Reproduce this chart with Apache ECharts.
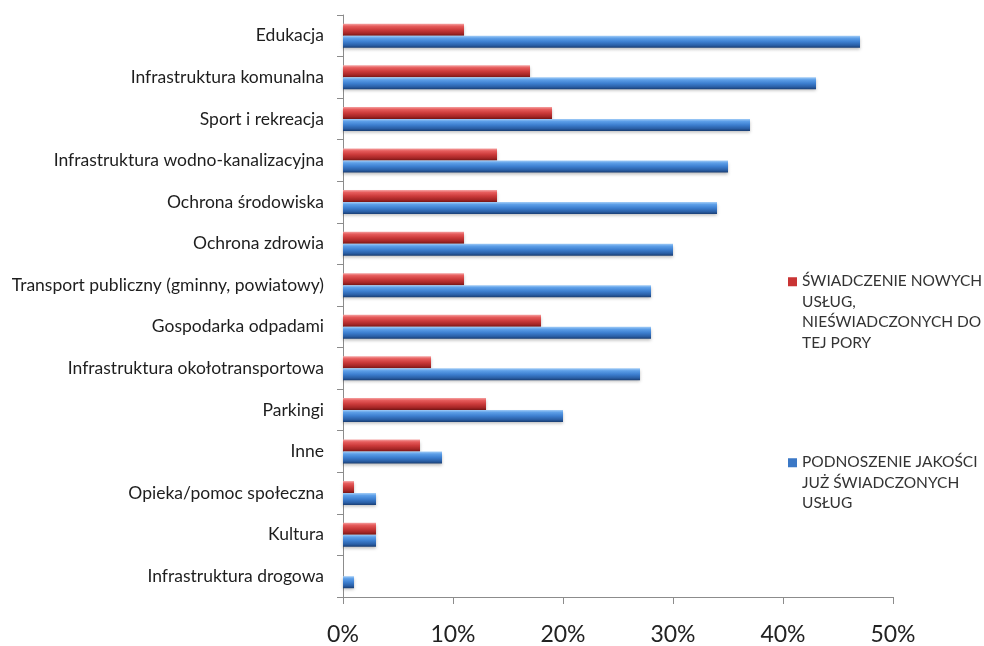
<!DOCTYPE html>
<html>
<head>
<meta charset="utf-8">
<script src="https://cdn.jsdelivr.net/npm/echarts@6/dist/echarts.min.js"></script>
<style>
html,body{margin:0;padding:0;background:#fff;}
#chart{width:984px;height:646px;}
</style>
</head>
<body>
<div id="chart"></div>
<script>
var categories = [
  'Edukacja',
  'Infrastruktura komunalna',
  'Sport i rekreacja',
  'Infrastruktura wodno-kanalizacyjna',
  'Ochrona środowiska',
  'Ochrona zdrowia',
  'Transport publiczny (gminny, powiatowy)',
  'Gospodarka odpadami',
  'Infrastruktura okołotransportowa',
  'Parkingi',
  'Inne',
  'Opieka/pomoc społeczna',
  'Kultura',
  'Infrastruktura drogowa'
];
var seriesNewName = 'ŚWIADCZENIE NOWYCH\nUSŁUG,\nNIEŚWIADCZONYCH DO\nTEJ PORY';
var seriesQualityName = 'PODNOSZENIE JAKOŚCI\nJUŻ ŚWIADCZONYCH\nUSŁUG';
var newServices = [11, 17, 19, 14, 14, 11, 11, 18, 8, 13, 7, 1, 3, 0];
var qualityServices = [47, 43, 37, 35, 34, 30, 28, 28, 27, 20, 9, 3, 3, 1];

var redGrad = new echarts.graphic.LinearGradient(0, 0, 0, 1, [
  {offset: 0, color: '#f5a3a3'},
  {offset: 0.2, color: '#e65c5c'},
  {offset: 0.5, color: '#cc3b3b'},
  {offset: 0.8, color: '#a52626'},
  {offset: 1, color: '#761515'}
]);
var blueGrad = new echarts.graphic.LinearGradient(0, 0, 0, 1, [
  {offset: 0, color: '#a3cdf7'},
  {offset: 0.2, color: '#5d9fe8'},
  {offset: 0.5, color: '#3d7fd0'},
  {offset: 0.8, color: '#2a5fa6'},
  {offset: 1, color: '#193d72'}
]);

var chart = echarts.init(document.getElementById('chart'), null, {renderer: 'canvas'});
var font = 'Lato, "Open Sans", sans-serif';
chart.setOption({
  animation: false,
  backgroundColor: '#ffffff',
  grid: {left: 343, right: 91, top: 15, bottom: 43, containLabel: false},
  legend: [
    {
      data: [seriesNewName],
      orient: 'vertical',
      left: 788,
      top: 271,
      padding: 0,
      itemWidth: 9,
      itemHeight: 69.5,
      icon: 'path://M0,0L9,0L9,9L0,9ZM0,69.5L0.001,69.5',
      itemStyle: {color: '#c93434', borderWidth: 0},
      textStyle: {fontFamily: font, fontSize: 15.5, color: '#333', lineHeight: 20.5}
    },
    {
      data: [seriesQualityName],
      orient: 'vertical',
      left: 788,
      top: 452,
      padding: 0,
      itemWidth: 9,
      itemHeight: 49,
      icon: 'path://M0,0L9,0L9,9L0,9ZM0,49L0.001,49',
      itemStyle: {color: '#3b78c6', borderWidth: 0},
      textStyle: {fontFamily: font, fontSize: 15.5, color: '#333', lineHeight: 20.5}
    }
  ],
  xAxis: {
    type: 'value',
    min: 0,
    max: 50,
    interval: 10,
    axisLine: {show: true, lineStyle: {color: '#8c8c8c', width: 1}},
    axisTick: {show: true, length: 7, lineStyle: {color: '#8c8c8c'}},
    splitLine: {show: false},
    axisLabel: {
      margin: 26,
      fontFamily: font,
      fontSize: 23,
      color: '#222',
      formatter: function (v) { return v + '%'; }
    }
  },
  yAxis: {
    type: 'category',
    data: categories,
    inverse: true,
    axisLine: {show: true, lineStyle: {color: '#8c8c8c', width: 1}},
    axisTick: {show: true, length: 6, lineStyle: {color: '#8c8c8c'}},
    axisLabel: {margin: 19, fontFamily: font, fontSize: 17.5, color: '#1e1e1e', padding: [0, 0, 4, 0]}
  },
  series: [
    {
      name: seriesNewName,
      type: 'bar',
      data: newServices,
      barWidth: 12,
      barGap: '0%',
      itemStyle: {color: redGrad, borderWidth: 0, shadowColor: 'rgba(0,0,0,0.25)', shadowBlur: 3, shadowOffsetY: 2}
    },
    {
      name: seriesQualityName,
      type: 'bar',
      data: qualityServices,
      barWidth: 12,
      barGap: '0%',
      itemStyle: {color: blueGrad, borderWidth: 0, shadowColor: 'rgba(0,0,0,0.25)', shadowBlur: 3, shadowOffsetY: 2}
    }
  ]
});
</script>
</body>
</html>
